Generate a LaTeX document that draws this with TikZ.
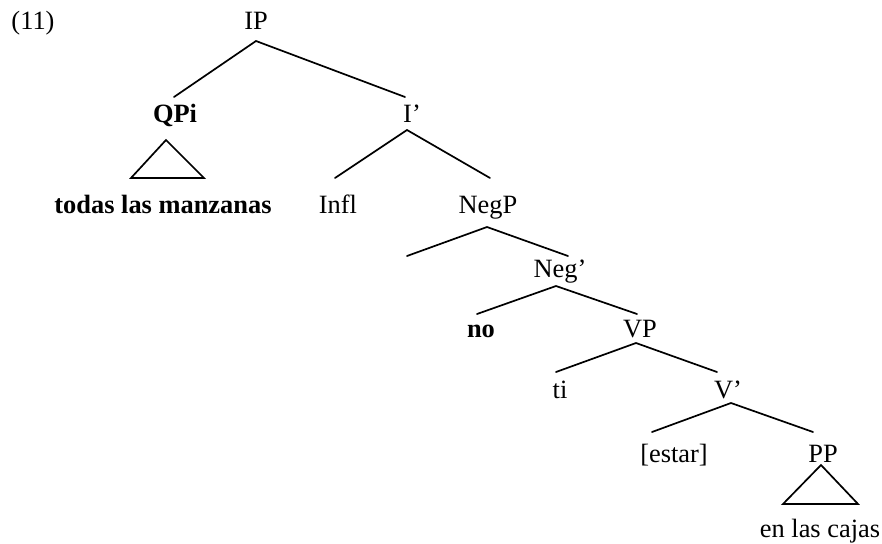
\documentclass[tikz,border=0pt]{standalone}
\usepackage{fontspec}
\setmainfont{Liberation Serif}
\begin{document}
\begin{tikzpicture}[x=1pt,y=-1pt,
  lbl/.style={anchor=base,inner sep=0pt,font=\fontsize{26.4}{30}\selectfont},
  blbl/.style={lbl,font=\fontsize{26.4}{30}\selectfont\bfseries},
  branch/.style={line width=1.7pt,line cap=round,line join=miter}]
\useasboundingbox (0,0) rectangle (882,543);
\node[lbl] (ex) at (33,30) {(11)};
\node[lbl] (IP) at (256,30) {IP};
\node[blbl] (QP) at (175,122) {QPi};
\node[lbl] (I) at (412,122) {I’};
\node[blbl] (todas) at (163,213) {todas las manzanas};
\node[lbl] (Infl) at (338,213) {Infl};
\node[lbl] (NegP) at (488,213) {NegP};
\coordinate (spec) at (407,256);
\node[lbl] (Negb) at (560,277) {Neg’};
\node[blbl] (no) at (481,337) {no};
\node[lbl] (VP) at (640,337) {VP};
\node[lbl] (ti) at (560,398) {ti};
\node[lbl] (Vb) at (728,398) {V’};
\node[lbl] (estar) at (674,462) {[estar]};
\node[lbl] (PP) at (823,462) {PP};
\node[lbl] (cajas) at (820,537) {en las cajas};

\draw[branch] ([shift={(-1,-25)}]QP.base) -- ([shift={(0,11)}]IP.base) -- ([shift={(-7,-25)}]I.base);
\draw[branch] ([shift={(-9,18)}]QP.base) -- ([shift={(-32,-35)}]todas.base) -- ([shift={(41,-35)}]todas.base) -- cycle;
\draw[branch] ([shift={(-3,-35)}]Infl.base) -- ([shift={(-5,8)}]I.base) -- ([shift={(2,-35)}]NegP.base);
\draw[branch] (spec) -- ([shift={(-1,14)}]NegP.base) -- ([shift={(8,-21)}]Negb.base);
\draw[branch] ([shift={(-4,-23)}]no.base) -- ([shift={(-4,9)}]Negb.base) -- ([shift={(-3,-23)}]VP.base);
\draw[branch] ([shift={(-4,-26)}]ti.base) -- ([shift={(-4,6)}]VP.base) -- ([shift={(-11,-26)}]Vb.base);
\draw[branch] ([shift={(-22,-30)}]estar.base) -- ([shift={(3,5)}]Vb.base) -- ([shift={(-10,-30)}]PP.base);
\draw[branch] ([shift={(-2,3)}]PP.base) -- ([shift={(-37,-33)}]cajas.base) -- ([shift={(38,-33)}]cajas.base) -- cycle;
\end{tikzpicture}
\end{document}
